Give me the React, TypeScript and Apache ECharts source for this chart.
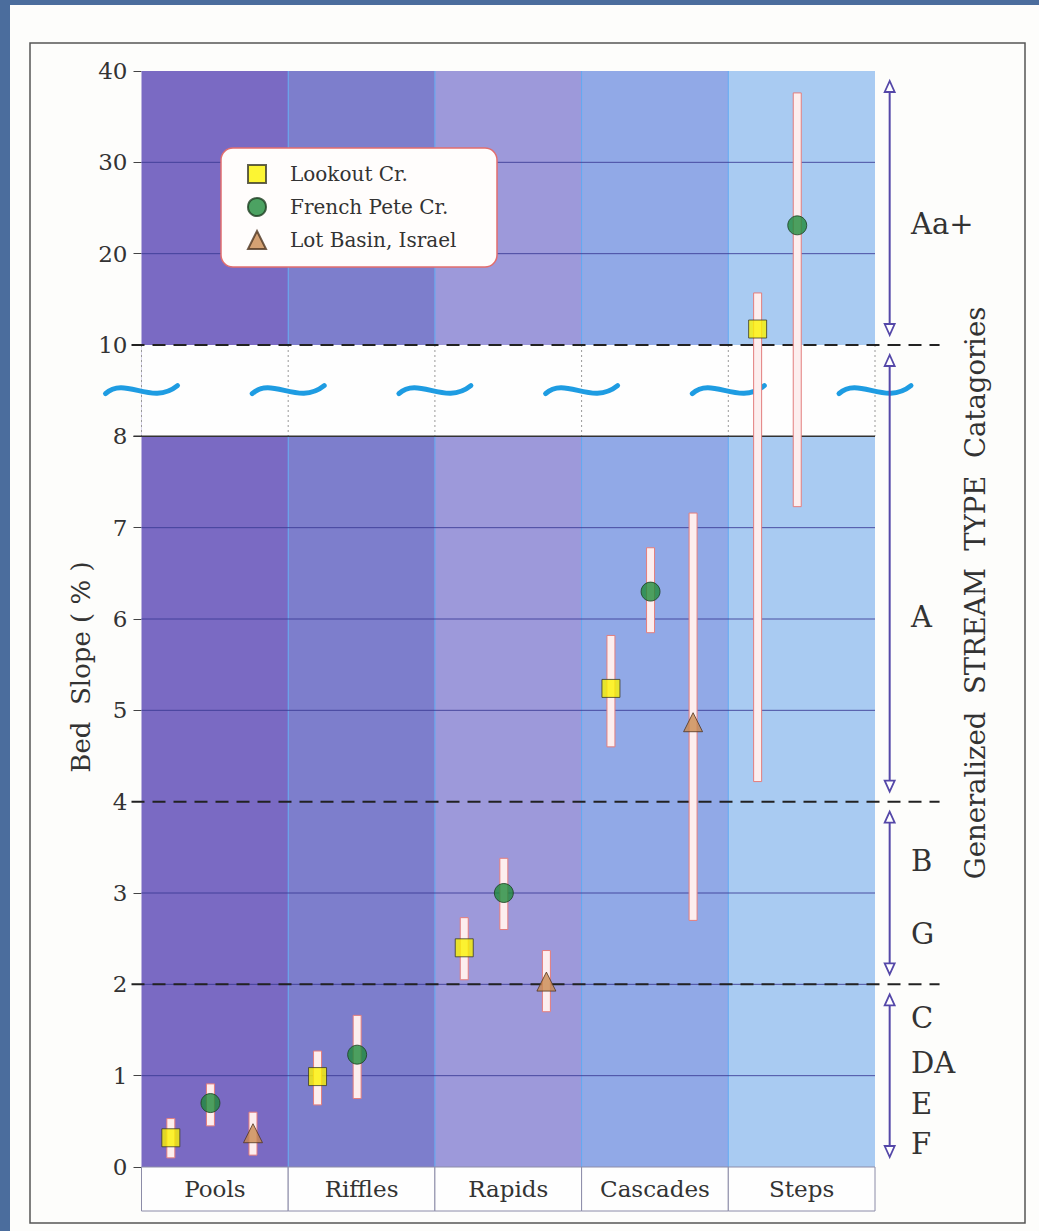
import React, { useEffect, useRef } from 'react';
import * as echarts from 'echarts';

// ---------------- data ----------------
const CATEGORIES = ['Pools', 'Riffles', 'Rapids', 'Cascades', 'Steps'];

const LOOKOUT_MEAN = [0.32, 0.99, 2.4, 5.24, 11.75];
const LOOKOUT_LOW = [0.1, 0.68, 2.05, 4.6, 4.22];
const LOOKOUT_HIGH = [0.53, 1.27, 2.73, 5.82, 15.7];

const FRENCH_MEAN = [0.7, 1.23, 3.0, 6.3, 23.1];
const FRENCH_LOW = [0.45, 0.75, 2.6, 5.85, 7.23];
const FRENCH_HIGH = [0.91, 1.66, 3.38, 6.78, 37.6];

const LOT_MEAN = [0.37, null, 2.03, 4.87, null];
const LOT_LOW = [0.13, null, 1.7, 2.7, null];
const LOT_HIGH = [0.6, null, 2.37, 7.16, null];

const Y_TICK_LABELS = ['0', '1', '2', '3', '4', '5', '6', '7', '8', '10', '20', '30', '40'];
const GRID_VALUES = [1, 2, 3, 5, 6, 7, 20, 30];
const Y_MAX = 40;
const SCALE_BREAK = [8, 10];
const CLASS_BREAKS = [10, 4, 2];
const CLASS_RANGES = [[10, 40], [4, 10], [2, 4], [0, 2]];
const STREAM_LABELS = ['Aa+', 'A', 'B', 'G', 'C', 'DA', 'E', 'F'];
const SERIES_NAMES = ['Lookout Cr.', 'French Pete Cr.', 'Lot Basin, Israel'];

// ---------------- styles / layout ----------------
const SERIF = '"DejaVu Serif", "Liberation Serif", serif';
const BAND_COLORS = ['#7a6ac3', '#7d7ecc', '#9d99da', '#91a9e7', '#a9cbf2'];
const OFFSETS = [0.2, 0.47, 0.76];
const ARROW_X = 5.1;
const LABEL_Y = [224, 617, 861, 934, 1018, 1063, 1104, 1144];

// piecewise (broken) axis transform: 0-8 linear, 8-10 compressed break, 10-40 at 10 per unit
const T = (v: number) => (v <= 8 ? v : v <= 10 ? 8 + (v - 8) / 2 : 9 + (v - 10) / 10);
const TOP = T(Y_MAX);

function errBarData(mean: (number | null)[], lo: (number | null)[], hi: (number | null)[], off: number) {
  const out: number[][] = [];
  mean.forEach((m, i) => {
    if (m == null) return;
    out.push([i + off, T(lo[i] as number), T(hi[i] as number)]);
  });
  return out;
}
function pointData(mean: (number | null)[], off: number) {
  const out: number[][] = [];
  mean.forEach((m, i) => {
    if (m == null) return;
    out.push([i + off, T(m)]);
  });
  return out;
}

function errBarSeries(data: number[][]) {
  return {
    type: 'custom',
    z: 6,
    silent: true,
    data,
    encode: { x: 0, y: [1, 2] },
    renderItem: (params: any, api: any) => {
      const x = api.value(0);
      const a = api.coord([x, api.value(1)]);
      const b = api.coord([x, api.value(2)]);
      const w = 8;
      return {
        type: 'rect',
        shape: { x: a[0] - w / 2, y: b[1], width: w, height: a[1] - b[1] },
        style: { fill: '#fdeeee', stroke: '#e37d7d', lineWidth: 1 },
      };
    },
  };
}

export default function App() {
  const ref = useRef<HTMLDivElement>(null);

  useEffect(() => {
    document.body.style.margin = '0';
    if (!ref.current) return;
    const chart = echarts.init(ref.current, undefined, { renderer: 'svg' });

    const option: any = {
      animation: false,
      backgroundColor: '#4b6d9d',
      grid: { left: 141.5, right: 164, top: 71, bottom: 64 },
      xAxis: [
        { type: 'value', min: 0, max: 5, show: false },
        {
          type: 'category',
          data: CATEGORIES,
          position: 'bottom',
          boundaryGap: true,
          z: 10,
          axisLine: { show: false },
          axisTick: { show: false },
          axisLabel: { fontFamily: SERIF, fontSize: 23, color: '#333', margin: 10 },
        },
      ],
      yAxis: {
        type: 'value',
        min: 0,
        max: TOP,
        interval: 1,
        splitLine: { show: false },
        axisLine: { show: false },
        axisTick: { show: true, length: 8, lineStyle: { color: '#444', width: 1 } },
        axisLabel: {
          fontFamily: SERIF,
          fontSize: 23,
          color: '#333',
          margin: 14,
          formatter: (v: number) => Y_TICK_LABELS[Math.round(v)] ?? '',
        },
      },
      legend: {
        data: SERIES_NAMES,
        orient: 'vertical',
        left: 247,
        top: 164,
        padding: 0,
        itemWidth: 18,
        itemHeight: 18,
        itemGap: 13,
        symbolKeepAspect: true,
        selectedMode: false,
        z: 9,
        textStyle: { fontFamily: SERIF, fontSize: 20, color: '#333', padding: [0, 0, 0, 19] },
      },
      graphic: [
        { type: 'rect', z: 0, shape: { x: 10, y: 5, width: 1029, height: 1226 }, style: { fill: '#fdfdfb' } },
        {
          type: 'rect',
          z: 0,
          shape: { x: 30, y: 43, width: 995, height: 1180 },
          style: { fill: 'none', stroke: '#555', lineWidth: 1.5 },
        },
        {
          type: 'rect',
          z: 8,
          shape: { x: 221, y: 148, width: 276, height: 119, r: 12 },
          style: { fill: '#fffdfc', stroke: '#e26e6e', lineWidth: 1.5 },
        },
        {
          type: 'text',
          z: 8,
          x: 81,
          y: 667,
          rotation: Math.PI / 2,
          style: {
            text: 'Bed  Slope ( % )',
            font: `26px ${SERIF}`,
            fill: '#333',
            textAlign: 'center',
            textVerticalAlign: 'middle',
          },
        },
        {
          type: 'text',
          z: 8,
          x: 975,
          y: 593,
          rotation: Math.PI / 2,
          style: {
            text: 'Generalized  STREAM  TYPE  Catagories',
            font: `27.5px ${SERIF}`,
            fill: '#333',
            textAlign: 'center',
            textVerticalAlign: 'middle',
          },
        },
        ...STREAM_LABELS.map((t, i) => ({
          type: 'text',
          z: 8,
          x: 911,
          y: LABEL_Y[i],
          style: { text: t, font: `29px ${SERIF}`, fill: '#333', textAlign: 'left', textVerticalAlign: 'middle' },
        })),
      ],
      series: [
        // column bands
        {
          type: 'custom',
          z: 1,
          silent: true,
          data: CATEGORIES.map((c, i) => [i, 0]),
          renderItem: (params: any, api: any) => {
            const i = api.value(0);
            const tl = api.coord([i, TOP]);
            const br = api.coord([i + 1, 0]);
            const children: any[] = [
              {
                type: 'rect',
                shape: { x: tl[0], y: tl[1], width: br[0] - tl[0], height: br[1] - tl[1] },
                style: { fill: BAND_COLORS[i] },
              },
            ];
            if (i > 0)
              children.push({
                type: 'line',
                shape: { x1: tl[0], y1: tl[1], x2: tl[0], y2: br[1] },
                style: { stroke: '#5ea8f2', lineWidth: 1 },
              });
            return { type: 'group', children };
          },
        },
        // category label boxes
        {
          type: 'custom',
          z: 1,
          silent: true,
          data: CATEGORIES.map((c, i) => [i, 0]),
          renderItem: (params: any, api: any) => {
            const i = api.value(0);
            const a = api.coord([i, 0]);
            const b = api.coord([i + 1, 0]);
            return {
              type: 'rect',
              shape: { x: a[0], y: a[1], width: b[0] - a[0], height: 44 },
              style: { fill: '#fefefe', stroke: '#8c8ca8', lineWidth: 1 },
            };
          },
        },
        // gridlines
        {
          type: 'custom',
          z: 2,
          silent: true,
          data: GRID_VALUES.map((v) => [0, T(v)]),
          renderItem: (params: any, api: any) => {
            const y = api.value(1);
            const a = api.coord([0, y]);
            const b = api.coord([5, y]);
            return {
              type: 'line',
              shape: { x1: a[0], y1: a[1], x2: b[0], y2: b[1] },
              style: { stroke: '#3a3a94', lineWidth: 1, opacity: 0.85 },
            };
          },
        },
        // scale break band
        {
          type: 'custom',
          z: 3,
          silent: true,
          data: [[0, T(SCALE_BREAK[0]), T(SCALE_BREAK[1])]],
          renderItem: (params: any, api: any) => {
            const lo = api.value(1);
            const hi = api.value(2);
            const tl = api.coord([0, hi]);
            const br = api.coord([5, lo]);
            const children: any[] = [
              {
                type: 'rect',
                shape: { x: tl[0], y: tl[1], width: br[0] - tl[0], height: br[1] - tl[1] },
                style: { fill: '#fefefe' },
              },
            ];
            for (let b = 0; b <= 5; b++) {
              const p = api.coord([b, hi]);
              children.push({
                type: 'line',
                shape: { x1: p[0], y1: tl[1], x2: p[0], y2: br[1] },
                style: { stroke: '#999', lineWidth: 1, lineDash: [2, 3] },
              });
            }
            children.push({
              type: 'line',
              shape: { x1: tl[0] - 8, y1: br[1], x2: br[0], y2: br[1] },
              style: { stroke: '#333', lineWidth: 1.5 },
            });
            return { type: 'group', children };
          },
        },
        // wavy break markers
        {
          type: 'custom',
          z: 4,
          silent: true,
          data: [0, 1, 2, 3, 4, 5].map((b) => [b, (T(SCALE_BREAK[0]) + T(SCALE_BREAK[1])) / 2]),
          renderItem: (params: any, api: any) => {
            const c = api.coord([api.value(0), api.value(1)]);
            return {
              type: 'bezierCurve',
              shape: {
                x1: c[0] - 36,
                y1: c[1] + 3,
                cpx1: c[0] - 16,
                cpy1: c[1] - 15,
                cpx2: c[0] + 10,
                cpy2: c[1] + 16,
                x2: c[0] + 36,
                y2: c[1] - 5,
              },
              style: { stroke: '#1e9ce2', lineWidth: 5, lineCap: 'round', fill: 'none' },
            };
          },
        },
        // class break dashed lines
        {
          type: 'custom',
          z: 5,
          silent: true,
          data: CLASS_BREAKS.map((v) => [0, T(v)]),
          renderItem: (params: any, api: any) => {
            const y = api.value(1);
            const a = api.coord([0, y]);
            const b = api.coord([5.44, y]);
            return {
              type: 'line',
              shape: { x1: a[0] - 10, y1: a[1], x2: b[0], y2: b[1] },
              style: { stroke: '#222', lineWidth: 2, lineDash: [13, 8] },
            };
          },
        },
        // stream type range arrows
        {
          type: 'custom',
          z: 5,
          silent: true,
          data: CLASS_RANGES.map((r) => [ARROW_X, T(r[0]), T(r[1])]),
          renderItem: (params: any, api: any) => {
            const x = api.value(0);
            const lo = api.coord([x, api.value(1)]);
            const hi = api.coord([x, api.value(2)]);
            const top = hi[1] + 10;
            const bot = lo[1] - 10;
            const cx = lo[0];
            const hw = 5;
            const hh = 11;
            const col = '#5548a8';
            return {
              type: 'group',
              children: [
                {
                  type: 'line',
                  shape: { x1: cx, y1: top + hh, x2: cx, y2: bot - hh },
                  style: { stroke: col, lineWidth: 2 },
                },
                {
                  type: 'polygon',
                  shape: { points: [[cx, top], [cx - hw, top + hh], [cx + hw, top + hh]] },
                  style: { fill: '#fff', stroke: col, lineWidth: 1.8 },
                },
                {
                  type: 'polygon',
                  shape: { points: [[cx, bot], [cx - hw, bot - hh], [cx + hw, bot - hh]] },
                  style: { fill: '#fff', stroke: col, lineWidth: 1.8 },
                },
              ],
            };
          },
        },
        errBarSeries(errBarData(LOOKOUT_MEAN, LOOKOUT_LOW, LOOKOUT_HIGH, OFFSETS[0])),
        errBarSeries(errBarData(FRENCH_MEAN, FRENCH_LOW, FRENCH_HIGH, OFFSETS[1])),
        errBarSeries(errBarData(LOT_MEAN, LOT_LOW, LOT_HIGH, OFFSETS[2])),
        {
          name: SERIES_NAMES[0],
          type: 'scatter',
          z: 7,
          symbol: 'rect',
          symbolSize: 18,
          symbolKeepAspect: true,
          data: pointData(LOOKOUT_MEAN, OFFSETS[0]),
          itemStyle: { color: '#fbf300', borderColor: '#3a3a2a', borderWidth: 1 },
        },
        {
          name: SERIES_NAMES[1],
          type: 'scatter',
          z: 7,
          symbol: 'circle',
          symbolSize: 19,
          symbolKeepAspect: true,
          data: pointData(FRENCH_MEAN, OFFSETS[1]),
          itemStyle: { color: '#1f8b3b', borderColor: '#1d3d20', borderWidth: 1 },
        },
        {
          name: SERIES_NAMES[2],
          type: 'scatter',
          z: 7,
          symbol: 'triangle',
          symbolSize: 19,
          symbolKeepAspect: true,
          data: pointData(LOT_MEAN, OFFSETS[2]),
          itemStyle: { color: '#c98a50', borderColor: '#4e3420', borderWidth: 1 },
        },
      ],
    };

    chart.setOption(option);
    return () => chart.dispose();
  }, []);

  return <div ref={ref} style={{ width: 1039, height: 1231 }} />;
}
